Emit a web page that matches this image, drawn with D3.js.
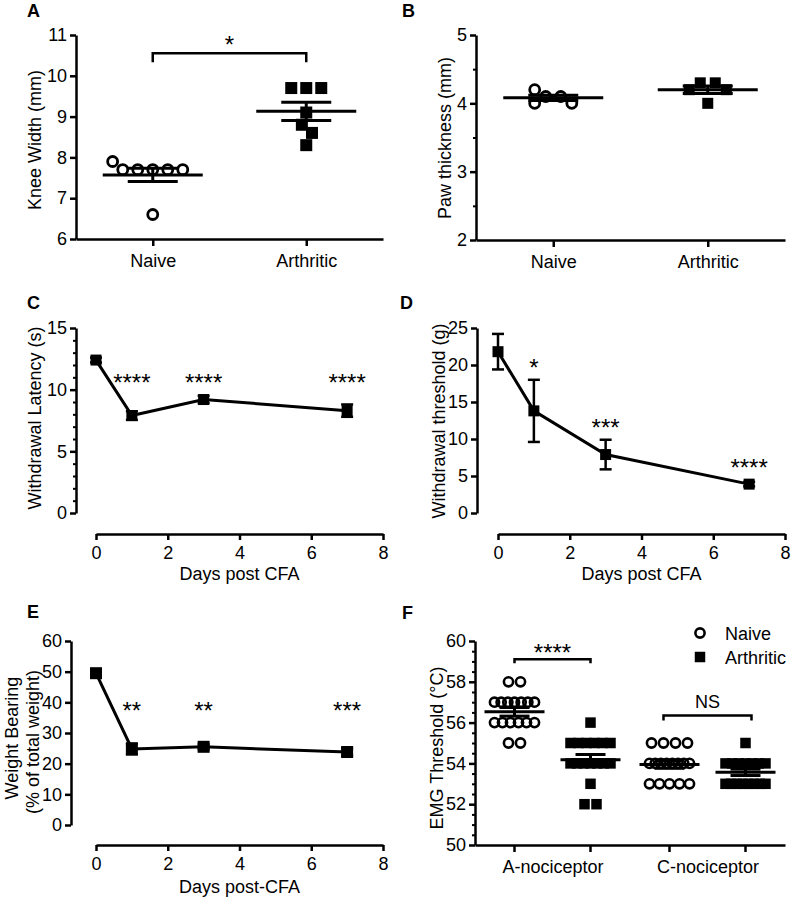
<!DOCTYPE html>
<html><head><meta charset="utf-8">
<script src="https://cdn.jsdelivr.net/npm/d3@7"></script>
<style>body{margin:0;background:#fff} text{font-family:"Liberation Sans",Arial,sans-serif;fill:#000}</style>
</head><body><script>
// ---------------- DATA ----------------
const groups = ["Naive", "Arthritic"];
// Panel A: knee width (mm)
const kneeNaive = [7.9, 7.7, 7.7, 7.7, 7.7, 7.7, 6.6];
const kneeArthritic = [9.7, 9.7, 9.7, 9.1, 8.8, 8.6, 8.3];
const kneeTicks = [6, 7, 8, 9, 10, 11];
const kneeBracketLevel = 10.55;
const kneeStarLevel = 10.9;
// Panel B: paw thickness (mm)
const pawNaive = [4.2, 4.1, 4.0, 4.0, 4.1];
const pawArthritic = [4.3, 4.3, 4.2, 4.2, 4.0];
const pawTicks = [2, 3, 4, 5];
const pawMinor = [2.5, 3.5, 4.5];
// Panels C-E: time course
const days = [0, 1, 3, 7];
const dayTicks = [0, 2, 4, 6, 8];
const latencyMean = [12.4, 7.9, 9.2, 8.3];
const latencySem = [0.2, 0.35, 0.3, 0.5];
const latencyStars = ["", "****", "****", "****"];
const latencyStarY = [null, 11, 11, 11];
const latencyTicks = [0, 5, 10, 15];
const latencyMinor = [1,2,3,4,6,7,8,9,11,12,13,14];
const thresholdMean = [21.8, 13.8, 7.9, 3.9];
const thresholdSem = [2.4, 4.2, 2.0, 0.3];
const thresholdStars = ["", "*", "***", "****"];
const thresholdStarY = [null, 20.4, 12.2, 6.8];
const thresholdTicks = [0, 5, 10, 15, 20, 25];
const weightMean = [49.5, 24.8, 25.5, 23.8];
const weightSem = [0.8, 1.8, 0.8, 1.2];
const weightStars = ["", "**", "**", "***"];
const weightStarY = [null, 39, 39, 39];
const weightTicks = [0, 10, 20, 30, 40, 50, 60];
// Panel F: EMG threshold (°C)
const nociCategories = ["A-nociceptor", "C-nociceptor"];
const emgANaive = [58,58,57,57,57,57,57,57,57,56,56,56,56,56,56,55,55];
const emgAArthritic = [56,55,55,55,55,55,55,54,54,54,54,54,54,54,53,52,52];
const emgCNaive = [55,55,55,55,54,54,54,54,54,54,54,54,53,53,53,53,53];
const emgCArthritic = [55,54,54,54,54,54,54,54,53,53,53,53,53,53,53,53];
const emgTicks = [50, 52, 54, 56, 58, 60];
const emgMinor = [50.5,51,51.5,52.5,53,53.5,54.5,55,55.5,56.5,57,57.5,58.5,59,59.5];
const emgBracketA = 59.1, emgStarA = 59.7, emgBracketC = 56.35, emgNSY = 57.05;

// ---------------- HELPERS ----------------
const FONT = '"Liberation Sans", Arial, sans-serif';
const svg = d3.select("body").append("svg").attr("width", 791).attr("height", 900).style("display", "block");

function styleAxis(g) {
  g.attr("font-size", 18).attr("font-family", FONT);
  g.select(".domain").attr("stroke", "#000").attr("stroke-width", 2.5);
  g.selectAll(".tick line").attr("stroke", "#000").attr("stroke-width", 2.5);
  g.selectAll(".tick text").attr("fill", "#000");
}
function yAxis(y, x0, ticks, minor) {
  const g = svg.append("g").attr("transform", `translate(${x0},0)`)
    .call(d3.axisLeft(y).tickValues(ticks).tickSize(6).tickPadding(3).tickSizeOuter(0).tickFormat(d3.format("d")));
  styleAxis(g);
  if (minor) {
    const m = svg.append("g").attr("transform", `translate(${x0},0)`)
      .call(d3.axisLeft(y).tickValues(minor).tickSize(3).tickFormat(""));
    m.select(".domain").remove();
    m.selectAll("line").attr("stroke", "#000").attr("stroke-width", 2);
  }
}
function yTitle(text, cx, cy) {
  svg.append("text").attr("transform", `translate(${cx},${cy}) rotate(-90)`)
    .attr("text-anchor", "middle").attr("dy", "0.35em").attr("font-size", 18).text(text);
}
function letter(t, x, y) {
  svg.append("text").attr("x", x).attr("y", y).attr("font-size", 18).attr("font-weight", "bold").text(t);
}
function swarm(values, y, opt) {
  const placed = [];
  const D2 = opt.diam * opt.diam;
  const groupsV = Array.from(d3.rollup(values, v => v.length, d => d), ([v, n]) => ({ v, n }))
    .sort((a, b) => b.n - a.n || b.v - a.v);
  const hits = (x, py) => placed.some(p => { const dx = p.x - x, dy = p.y - py; return dx * dx + dy * dy < D2 - 1e-6; });
  for (const g of groupsV) {
    const py = y(g.v);
    const s = g.n > 1 ? Math.min(opt.spacing, opt.maxSpan / (g.n - 1)) : 0;
    const row = d3.range(g.n).map(i => (i - (g.n - 1) / 2) * s);
    if (row.every(x => !hits(x, py))) { row.forEach(x => placed.push({ x, y: py })); continue; }
    for (let i = 0; i < g.n; i++) {
      const cands = [0];
      placed.forEach(p => {
        const dy = Math.abs(p.y - py);
        if (dy < opt.diam) { const dx = Math.sqrt(D2 - dy * dy); cands.push(p.x - dx, p.x + dx); }
      });
      const valid = cands.filter(x => !hits(x, py)).sort((a, b) => Math.abs(a) - Math.abs(b) || a - b);
      placed.push({ x: valid[0], y: py });
    }
  }
  return placed;
}
function drawPoints(pts, cx, shape, size) {
  const g = svg.append("g");
  if (shape === "circle") {
    g.selectAll("circle").data(pts).join("circle")
      .attr("cx", d => cx + d.x).attr("cy", d => d.y).attr("r", size.r)
      .attr("fill", "none").attr("stroke", "#000").attr("stroke-width", size.sw);
  } else {
    g.selectAll("rect").data(pts).join("rect")
      .attr("x", d => cx + d.x - size.s / 2).attr("y", d => d.y - size.s / 2)
      .attr("width", size.s).attr("height", size.s).attr("fill", "#000");
  }
}
function drawMeanSem(vals, cx, y, half, capHalf) {
  const m = d3.mean(vals), s = d3.deviation(vals) / Math.sqrt(vals.length);
  const g = svg.append("g").attr("stroke", "#000").attr("stroke-width", 3).attr("fill", "none");
  g.append("line").attr("x1", cx - half).attr("x2", cx + half).attr("y1", y(m)).attr("y2", y(m));
  g.append("line").attr("x1", cx).attr("x2", cx).attr("y1", y(m - s)).attr("y2", y(m + s));
  [m - s, m + s].forEach(v => g.append("line").attr("x1", cx - capHalf).attr("x2", cx + capHalf).attr("y1", y(v)).attr("y2", y(v)));
}
function bracket(xa, xb, yy, drop, sw) {
  svg.append("path").attr("d", `M${xa},${yy + drop}V${yy}H${xb}V${yy + drop}`)
    .attr("fill", "none").attr("stroke", "#000").attr("stroke-width", sw);
}
function starText(t, x, yy, size) {
  svg.append("text").attr("x", x).attr("y", yy).attr("dy", "0.57em").attr("text-anchor", "middle")
    .attr("font-size", size).text(t);
}

// ---------------- PANEL A ----------------
letter("A", 27, 17);
const yA = d3.scaleLinear([6, 11], [239, 35]);
const xA = d3.scalePoint(groups, [76, 383]).padding(0.5);
yAxis(yA, 76, kneeTicks);
styleAxis(svg.append("g").attr("transform", "translate(0,239)")
  .call(d3.axisBottom(xA).tickSize(7).tickPadding(8).tickSizeOuter(0)));
yTitle("Knee Width (mm)", 35, 140);
drawPoints(swarm(kneeNaive, yA, { spacing: 15, maxSpan: 80, diam: 13 }), xA("Naive"), "circle", { r: 5, sw: 2.8 });
drawPoints(swarm(kneeArthritic, yA, { spacing: 15, maxSpan: 80, diam: 13 }), xA("Arthritic"), "square", { s: 12 });
drawMeanSem(kneeNaive, xA("Naive"), yA, 50, 25);
drawMeanSem(kneeArthritic, xA("Arthritic"), yA, 50, 25);
bracket(xA("Naive"), xA("Arthritic"), yA(kneeBracketLevel), 9, 2.5);
starText("*", (xA("Naive") + xA("Arthritic")) / 2, yA(kneeStarLevel), 24);

// ---------------- PANEL B ----------------
letter("B", 402, 17);
const yB = d3.scaleLinear([2, 5], [240, 35]);
const xB = d3.scalePoint(groups, [476, 785]).padding(0.5);
yAxis(yB, 476, pawTicks, pawMinor);
styleAxis(svg.append("g").attr("transform", "translate(0,240)")
  .call(d3.axisBottom(xB).tickSize(7).tickPadding(8).tickSizeOuter(0)));
yTitle("Paw thickness  (mm)", 445, 138);
drawPoints(swarm(pawNaive, yB, { spacing: 15, maxSpan: 80, diam: 13 }), xB("Naive"), "circle", { r: 5, sw: 2.8 });
drawPoints(swarm(pawArthritic, yB, { spacing: 15, maxSpan: 80, diam: 13 }), xB("Arthritic"), "square", { s: 11 });
drawMeanSem(pawNaive, xB("Naive"), yB, 50, 25);
drawMeanSem(pawArthritic, xB("Arthritic"), yB, 50, 25);

// ---------------- LINE PANELS ----------------
function linePanel(o) {
  const y = d3.scaleLinear(o.yDomain, [o.yBottom, o.yTop]);
  const x = d3.scaleLinear([0, 8], [o.xLeft, o.xRight]);
  yAxis(y, o.yAxisX, o.ticks, o.minor);
  const gx = svg.append("g").attr("transform", `translate(0,${o.xAxisY})`)
    .call(d3.axisBottom(x).tickValues(dayTicks).tickSize(6).tickPadding(6).tickSizeOuter(0).tickFormat(d3.format("d")));
  styleAxis(gx);
  svg.append("text").attr("x", (o.xLeft + o.xRight) / 2).attr("y", o.xTitleY).attr("text-anchor", "middle")
    .attr("font-size", 18).text(o.xTitle);
  const pts = days.map((d, i) => ({ d, m: o.mean[i], s: o.sem[i], star: o.stars[i], sy: o.starY[i] }));
  svg.append("path").datum(pts).attr("d", d3.line().x(p => x(p.d)).y(p => y(p.m)))
    .attr("fill", "none").attr("stroke", "#000").attr("stroke-width", 3);
  const eb = svg.append("g").attr("stroke", "#000").attr("stroke-width", 2.5);
  pts.forEach(p => {
    eb.append("line").attr("x1", x(p.d)).attr("x2", x(p.d)).attr("y1", y(p.m - p.s)).attr("y2", y(p.m + p.s));
    [p.m - p.s, p.m + p.s].forEach(v => eb.append("line").attr("x1", x(p.d) - 6).attr("x2", x(p.d) + 6).attr("y1", y(v)).attr("y2", y(v)));
  });
  svg.append("g").selectAll("rect").data(pts).join("rect")
    .attr("x", p => x(p.d) - o.sq / 2).attr("y", p => y(p.m) - o.sq / 2)
    .attr("width", o.sq).attr("height", o.sq).attr("fill", "#000");
  pts.filter(p => p.star).forEach(p => starText(p.star, x(p.d), y(p.sy), 24));
}

letter("C", 27, 309);
linePanel({ yDomain: [0, 15], yBottom: 513, yTop: 328, yAxisX: 76, ticks: latencyTicks, minor: latencyMinor,
  xLeft: 96, xRight: 383, xAxisY: 534, xTitle: "Days post CFA", xTitleY: 580,
  mean: latencyMean, sem: latencySem, stars: latencyStars, starY: latencyStarY, sq: 11 });
yTitle("Withdrawal Latency (s)", 35, 418);

letter("D", 400, 309);
linePanel({ yDomain: [0, 25], yBottom: 513, yTop: 328, yAxisX: 477, ticks: thresholdTicks, minor: null,
  xLeft: 498, xRight: 785, xAxisY: 534, xTitle: "Days post CFA", xTitleY: 580,
  mean: thresholdMean, sem: thresholdSem, stars: thresholdStars, starY: thresholdStarY, sq: 11 });
yTitle("Withdrawal threshold (g)", 439, 421);

letter("E", 27, 618);
linePanel({ yDomain: [0, 60], yBottom: 825, yTop: 641, yAxisX: 71, ticks: weightTicks, minor: null,
  xLeft: 96, xRight: 383, xAxisY: 845, xTitle: "Days post-CFA", xTitleY: 893,
  mean: weightMean, sem: weightSem, stars: weightStars, starY: weightStarY, sq: 12 });
yTitle("Weight Bearing", 12, 738);
yTitle("(% of total weight)", 33, 742);

// ---------------- PANEL F ----------------
letter("F", 402, 619);
const yF = d3.scaleLinear([50, 60], [845, 641]);
const xF = d3.scalePoint(nociCategories, [475, 785]).padding(0.5);
const subF = d3.scaleBand(groups, [-76, 76]);
const off = g => subF(g) + subF.bandwidth() / 2;
yAxis(yF, 475, emgTicks, emgMinor);
const gxF = svg.append("g").attr("transform", "translate(0,845)")
  .call(d3.axisBottom(xF).tickSize(0).tickPadding(15).tickSizeOuter(0));
styleAxis(gxF);
const tickF = svg.append("g").attr("stroke", "#000").attr("stroke-width", 2.5);
nociCategories.forEach(c => groups.forEach(g => {
  const tx = xF(c) + off(g);
  tickF.append("line").attr("x1", tx).attr("x2", tx).attr("y1", 845).attr("y2", 852);
}));
yTitle("EMG Threshold (°C)", 437, 748);
const fOpt = { spacing: 12, maxSpan: 40, diam: 12 };
const fSets = [
  ["A-nociceptor", "Naive", emgANaive], ["A-nociceptor", "Arthritic", emgAArthritic],
  ["C-nociceptor", "Naive", emgCNaive], ["C-nociceptor", "Arthritic", emgCArthritic]];
fSets.forEach(([c, g, vals]) => {
  const cx = xF(c) + off(g);
  drawPoints(swarm(vals, yF, fOpt), cx, g === "Naive" ? "circle" : "square", g === "Naive" ? { r: 4.6, sw: 2.6 } : { s: 10.5 });
});
fSets.forEach(([c, g, vals]) => drawMeanSem(vals, xF(c) + off(g), yF, 30, 15));
const aN = xF("A-nociceptor") + off("Naive"), aA = xF("A-nociceptor") + off("Arthritic");
const cN = xF("C-nociceptor") + off("Naive"), cA = xF("C-nociceptor") + off("Arthritic");
bracket(aN, aA, yF(emgBracketA), 4, 2.5);
starText("****", (aN + aA) / 2, yF(emgStarA), 24);
bracket(cN - 6, cA + 6, yF(emgBracketC), 5, 2.5);
svg.append("text").attr("x", (cN + cA) / 2).attr("y", yF(emgNSY)).attr("dy", "0.36em")
  .attr("text-anchor", "middle").attr("font-size", 18).text("NS");
// legend
svg.append("circle").attr("cx", 700).attr("cy", 633).attr("r", 4.6).attr("fill", "none").attr("stroke", "#000").attr("stroke-width", 2.6);
svg.append("rect").attr("x", 700 - 5.25).attr("y", 657 - 5.25).attr("width", 10.5).attr("height", 10.5).attr("fill", "#000");
svg.append("text").attr("x", 725).attr("y", 640).attr("font-size", 18).text("Naive");
svg.append("text").attr("x", 725).attr("y", 664).attr("font-size", 18).text("Arthritic");
</script></body></html>
